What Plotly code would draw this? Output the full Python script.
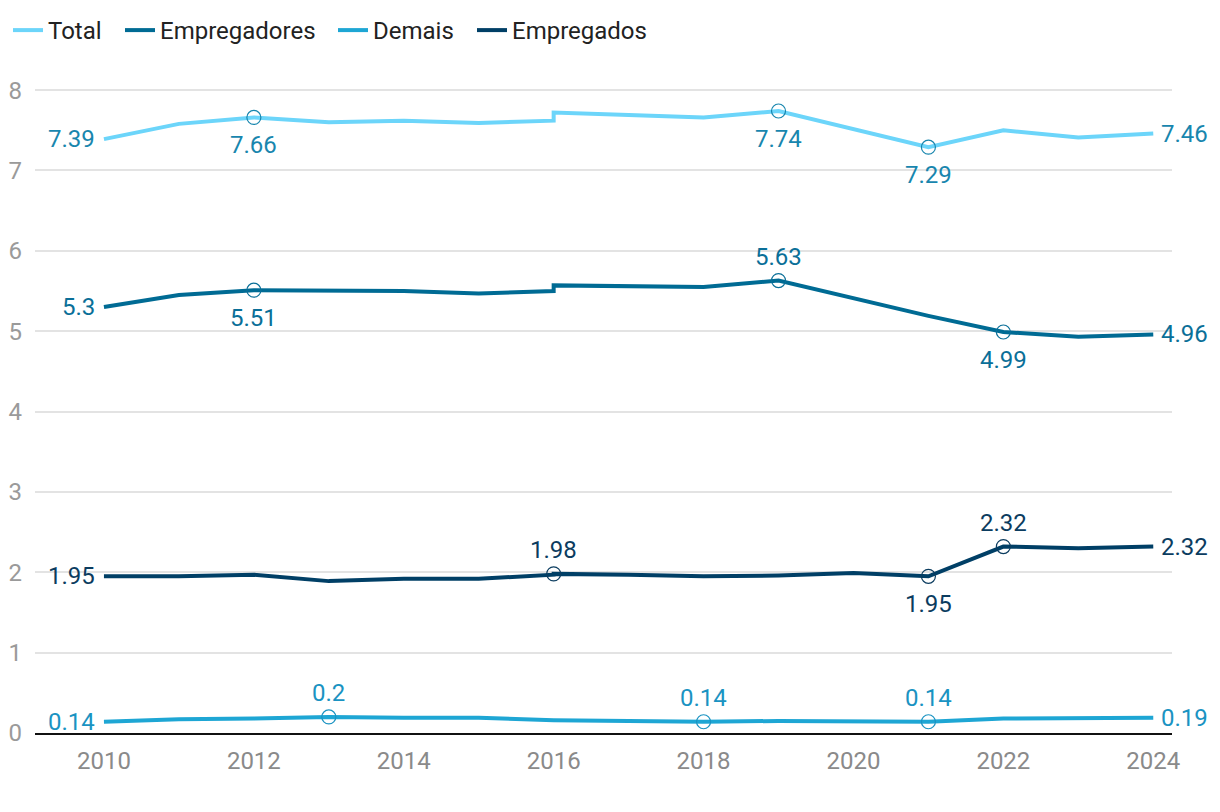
import plotly.graph_objects as go

# ---- data ----
years = [2010, 2011, 2012, 2013, 2014, 2015, 2016, 2016, 2017, 2018, 2019, 2020, 2021, 2022, 2023, 2024]
total = [7.39, 7.58, 7.66, 7.60, 7.62, 7.59, 7.62, 7.72, 7.69, 7.66, 7.74, 7.52, 7.29, 7.50, 7.41, 7.46]
empregadores = [5.30, 5.45, 5.51, 5.51, 5.50, 5.47, 5.50, 5.57, 5.56, 5.55, 5.63, 5.41, 5.19, 4.99, 4.93, 4.96]
demais = [0.14, 0.17, 0.18, 0.20, 0.19, 0.19, 0.16, 0.16, 0.15, 0.14, 0.15, 0.14, 0.14, 0.18, 0.18, 0.19]
empregados = [1.95, 1.95, 1.97, 1.89, 1.92, 1.92, 1.97, 1.98, 1.97, 1.95, 1.96, 1.99, 1.95, 2.32, 2.30, 2.32]
x_ticks = [2010, 2012, 2014, 2016, 2018, 2020, 2022, 2024]
y_ticks = [0, 1, 2, 3, 4, 5, 6, 7, 8]

# labelled points: (index, placement)
total_labels = [(0, "left"), (2, "below"), (10, "below"), (12, "below"), (15, "right")]
empregadores_labels = [(0, "left"), (2, "below"), (10, "above"), (13, "below"), (15, "right")]
demais_labels = [(0, "left"), (3, "above"), (9, "above"), (12, "above"), (15, "right")]
empregados_labels = [(0, "left"), (7, "above"), (12, "below"), (13, "above"), (15, "right")]

series = [
    ("Total", total, total_labels, "#6cd5fa", "#1886ae", "legend", 0),
    ("Empregadores", empregadores, empregadores_labels, "#006b94", "#0a6f98", "legend2", 112),
    ("Demais", demais, demais_labels, "#1ea6d4", "#1a93c2", "legend3", 325),
    ("Empregados", empregados, empregados_labels, "#003f66", "#0b3c5f", "legend4", 464),
]

# page body has an 8px margin, so the figure is sized to the visible area
W, H = 1212, 804
L, R, T, B = 27, 48, 58, 79
PW = W - L - R
PH = H - T - B
FONT = "Roboto"

fig = go.Figure()
annotations = []
legends = {}
for name, vals, labels, lcol, tcol, leg, legx in series:
    fig.add_trace(go.Scatter(
        x=years, y=vals, name=name, mode="lines", legend=leg,
        line=dict(color=lcol, width=4), hoverinfo="skip",
    ))
    mx, my = [], []
    for idx, pos in labels:
        if pos in ("above", "below"):
            mx.append(years[idx])
            my.append(vals[idx])
        a = dict(x=years[idx], y=vals[idx], text=str(vals[idx]), showarrow=False,
                 font=dict(family=FONT, size=24, color=tcol))
        if pos == "left":
            a.update(xanchor="right", yanchor="middle", xshift=-7)
        elif pos == "right":
            a.update(xanchor="left", yanchor="middle", xshift=6)
        elif pos == "above":
            a.update(xanchor="center", yanchor="middle", yshift=24)
        else:
            a.update(xanchor="center", yanchor="middle", yshift=-28)
        annotations.append(a)
    fig.add_trace(go.Scatter(
        x=mx, y=my, mode="markers", showlegend=False, hoverinfo="skip",
        marker=dict(symbol="circle-open", size=14, color=tcol, line=dict(width=1.2, color=tcol)),
    ))
    legends[leg] = dict(orientation="h", x=(legx - L) / PW, y=1 + T / PH,
                        xanchor="left", yanchor="top",
                        font=dict(family=FONT, size=24, color="#222222"),
                        itemwidth=30, bgcolor="rgba(0,0,0,0)")

fig.update_layout(
    width=W, height=H,
    margin=dict(l=L, r=R, t=T, b=B, autoexpand=False),
    paper_bgcolor="white", plot_bgcolor="white",
    font=dict(family=FONT),
    annotations=annotations,
    showlegend=True,
    **legends,
)
fig.update_xaxes(
    range=[2009.08, 2024.25], tickmode="array", tickvals=x_ticks,
    showgrid=False, zeroline=False, showline=True, linecolor="#111111", linewidth=2,
    tickfont=dict(family=FONT, size=24, color="#8a8a8a"), ticks="", ticklabelstandoff=5,
    automargin=False,
)
fig.update_yaxes(
    range=[0, 8.3], tickmode="array", tickvals=y_ticks,
    showgrid=True, gridcolor="#e3e3e3", gridwidth=2,
    zeroline=False, showline=False,
    tickfont=dict(family=FONT, size=24, color="#9a9a9a"), ticks="", ticklabelstandoff=12,
    automargin=False,
)

fig.write_html("out.html")
